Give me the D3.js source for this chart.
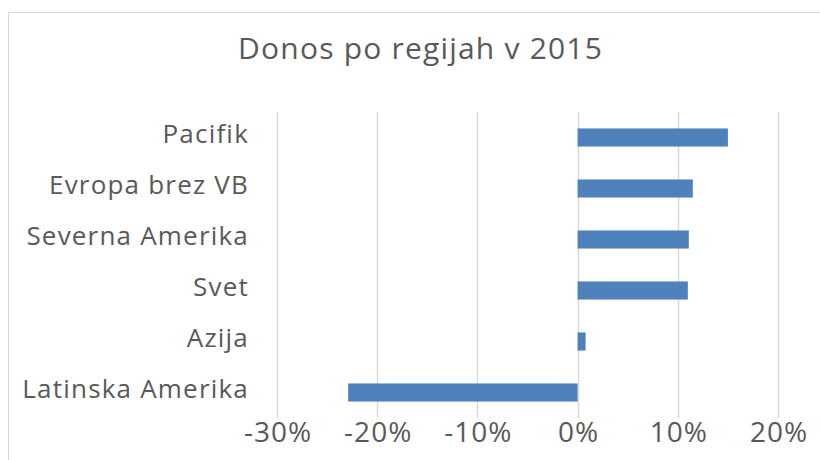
<!DOCTYPE html>
<html>
<head>
<meta charset="utf-8">
<script src="https://cdn.jsdelivr.net/npm/d3@7"></script>
<style>
  body { margin: 0; background: #fff; }
  text { font-family: "Open Sans", sans-serif; fill: #595959; }
</style>
</head>
<body>
<div class="viz"></div>
<script>
// data
const regions = ["Pacifik", "Evropa brez VB", "Severna Amerika", "Svet", "Azija", "Latinska Amerika"];
const returns2015 = [0.150, 0.115, 0.111, 0.110, 0.008, -0.229];
const tickValues = [-0.3, -0.2, -0.1, 0, 0.1, 0.2];
const title = "Donos po regijah v 2015";

var width = 820, height = 460;
var margin = { top: 112, bottom: 42, left: 277, right: 42 };

var svg = d3.select('.viz').append('svg')
    .attr('width', width)
    .attr('height', height);

// chart area border (Excel style, runs off right/bottom)
svg.append('rect')
    .attr('x', 8.5).attr('y', 12.5)
    .attr('width', 830).attr('height', 470)
    .attr('fill', 'none')
    .attr('stroke', '#d9d9d9')
    .attr('stroke-width', 1);

var x = d3.scaleLinear()
    .domain([-0.3, 0.2])
    .range([margin.left, width - margin.right]);

var y = d3.scaleBand()
    .domain(regions)
    .range([margin.top, height - margin.bottom])
    .paddingInner(0.645)
    .paddingOuter(0.3225);

// gridlines
svg.append('g')
    .selectAll('line')
    .data(tickValues)
    .enter().append('line')
    .attr('x1', d => Math.round(x(d)) + 0.5)
    .attr('x2', d => Math.round(x(d)) + 0.5)
    .attr('y1', margin.top)
    .attr('y2', height - margin.bottom)
    .attr('stroke', '#d9d9d9')
    .attr('stroke-width', 1.5);

// bars
svg.append('g')
    .selectAll('rect')
    .data(regions)
    .enter().append('rect')
    .attr('x', (d, i) => x(Math.min(0, returns2015[i])))
    .attr('y', d => y(d))
    .attr('width', (d, i) => Math.abs(x(returns2015[i]) - x(0)))
    .attr('height', y.bandwidth())
    .attr('fill', '#4f81bd');

// x axis labels
var xAxis = d3.axisBottom(x)
    .tickValues(tickValues)
    .tickFormat(d3.format('.0%'))
    .tickSize(0)
    .tickPadding(0);

var gx = svg.append('g')
    .attr('transform', 'translate(0,' + (height - margin.bottom) + ')')
    .call(xAxis);
gx.select('.domain').remove();
gx.selectAll('text')
    .attr('dy', null)
    .attr('y', 24)
    .attr('x', 0.5)
    .style('font-size', '28px')
    .style('letter-spacing', '1px')
    .attr('fill', '#595959')
    .text(d => d3.format('.0%')(d).replace('−', '-'));

// category labels
var yAxis = d3.axisLeft(y).tickSize(0).tickPadding(0);
var gy = svg.append('g')
    .attr('transform', 'translate(249,0)')
    .call(yAxis);
gy.select('.domain').remove();
gy.selectAll('text')
    .style('font-size', '26px')
    .style('letter-spacing', '1.2px')
    .attr('fill', '#595959')
    .attr('dy', '0.32em')
    .attr('y', -3);

// title
svg.append('text')
    .attr('x', 420.6)
    .attr('y', 59)
    .attr('text-anchor', 'middle')
    .style('font-size', '30px')
    .style('letter-spacing', '1.2px')
    .text(title);
</script>
</body>
</html>
